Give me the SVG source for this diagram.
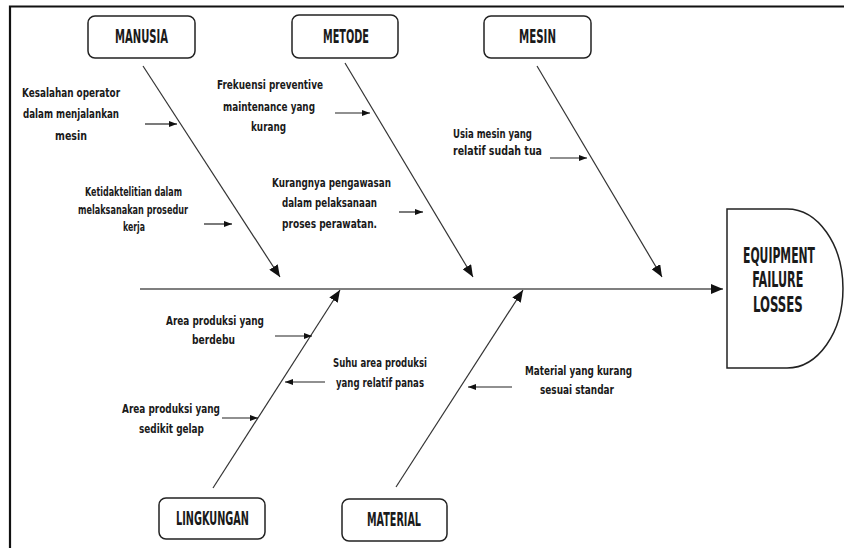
<svg xmlns="http://www.w3.org/2000/svg" width="844" height="548" viewBox="0 0 844 548">
<style>
.frame{fill:none;stroke:#111;stroke-width:2.2}
.box{fill:#fff;stroke:#222;stroke-width:1.5}
.bone{stroke:#333;stroke-width:1.2;fill:none}
.spine{stroke:#555;stroke-width:1.6;fill:none}
.sm{stroke:#222;stroke-width:1.2;fill:none}
text{font-family:"DejaVu Sans Condensed","DejaVu Sans","Liberation Sans",sans-serif;font-weight:bold;fill:#1a1a1a}
.lbl{font-size:19px}
.eff{font-size:22px;text-anchor:middle}
.t{font-size:13px}
</style>
<defs>
<marker id="big" viewBox="0 0 12 10" refX="12" refY="5" markerWidth="12" markerHeight="10" markerUnits="userSpaceOnUse" orient="auto">
<path d="M0,0 L12,5 L0,10 Z" fill="#111"/>
</marker>
<marker id="small" viewBox="0 0 8 6" refX="8" refY="3" markerWidth="8" markerHeight="6" markerUnits="userSpaceOnUse" orient="auto">
<path d="M0,0 L8,3 L0,6 Z" fill="#111"/>
</marker>
</defs>
<rect width="844" height="548" fill="#fff"/>
<path class="frame" d="M10,548 V6.5 H844"/>

<g id="connectors">
<line class="spine" x1="140" y1="289" x2="723" y2="289" marker-end="url(#big)"/>
<line class="bone" x1="143" y1="66" x2="280" y2="277" marker-end="url(#big)"/>
<line class="bone" x1="345" y1="63" x2="473" y2="277" marker-end="url(#big)"/>
<line class="bone" x1="537" y1="66" x2="662" y2="277" marker-end="url(#big)"/>
<line class="bone" x1="213" y1="488" x2="340" y2="290" marker-end="url(#big)"/>
<line class="bone" x1="396" y1="487" x2="523" y2="290" marker-end="url(#big)"/>
<line class="sm" x1="145" y1="124" x2="177" y2="124" marker-end="url(#small)"/>
<line class="sm" x1="204" y1="224" x2="232" y2="224" marker-end="url(#small)"/>
<line class="sm" x1="335" y1="113" x2="370" y2="113" marker-end="url(#small)"/>
<line class="sm" x1="399" y1="212" x2="423" y2="212" marker-end="url(#small)"/>
<line class="sm" x1="550" y1="158" x2="587" y2="158" marker-end="url(#small)"/>
<line class="sm" x1="275" y1="336" x2="312" y2="336" marker-end="url(#small)"/>
<line class="sm" x1="325" y1="382" x2="285" y2="382" marker-end="url(#small)"/>
<line class="sm" x1="222" y1="418" x2="258" y2="418" marker-end="url(#small)"/>
<line class="sm" x1="512" y1="387" x2="468" y2="387" marker-end="url(#small)"/>
</g>

<g id="manusia">
<rect class="box" x="88" y="16" width="107" height="42" rx="7"/>
<text class="lbl" x="115" y="43" textLength="53" lengthAdjust="spacingAndGlyphs">MANUSIA</text>
</g>
<g id="metode">
<rect class="box" x="292" y="15" width="106" height="43" rx="7"/>
<text class="lbl" x="323" y="43" textLength="46" lengthAdjust="spacingAndGlyphs">METODE</text>
</g>
<g id="mesin">
<rect class="box" x="484" y="16" width="107" height="42" rx="7"/>
<text class="lbl" x="519" y="43" textLength="37" lengthAdjust="spacingAndGlyphs">MESIN</text>
</g>
<g id="lingkungan">
<rect class="box" x="159" y="498" width="106" height="41" rx="7"/>
<text class="lbl" x="176" y="525" textLength="73" lengthAdjust="spacingAndGlyphs">LINGKUNGAN</text>
</g>
<g id="material">
<rect class="box" x="342" y="499" width="105" height="42" rx="7"/>
<text class="lbl" x="367" y="526" textLength="54" lengthAdjust="spacingAndGlyphs">MATERIAL</text>
</g>
<g id="effect">
<path class="box" d="M727,209 H787 A56,79.5 0 0 1 787,368 H727 Z"/>
<g transform="translate(779,0) scale(0.6,1)">
<text class="eff" x="0" y="263" textLength="120" lengthAdjust="spacingAndGlyphs">EQUIPMENT</text>
<text class="eff" x="-2" y="287" textLength="85" lengthAdjust="spacingAndGlyphs">FAILURE</text>
<text class="eff" x="-2" y="312" textLength="83" lengthAdjust="spacingAndGlyphs">LOSSES</text>
</g>
</g>

<g id="cause-kesalahan">
<text class="t" x="22" y="97" textLength="98" lengthAdjust="spacingAndGlyphs">Kesalahan operator</text>
<text class="t" x="23" y="118" textLength="96" lengthAdjust="spacingAndGlyphs">dalam menjalankan</text>
<text class="t" x="55" y="140" textLength="32" lengthAdjust="spacingAndGlyphs">mesin</text>
</g>
<g id="cause-ketidaktelitian">
<text class="t" x="85" y="196" textLength="97" lengthAdjust="spacingAndGlyphs">Ketidaktelitian dalam</text>
<text class="t" x="78" y="214" textLength="110" lengthAdjust="spacingAndGlyphs">melaksanakan prosedur</text>
<text class="t" x="123" y="231" textLength="22" lengthAdjust="spacingAndGlyphs">kerja</text>
</g>
<g id="cause-frekuensi">
<text class="t" x="217" y="89" textLength="106" lengthAdjust="spacingAndGlyphs">Frekuensi preventive</text>
<text class="t" x="223" y="111" textLength="92" lengthAdjust="spacingAndGlyphs">maintenance yang</text>
<text class="t" x="251" y="131" textLength="35" lengthAdjust="spacingAndGlyphs">kurang</text>
</g>
<g id="cause-kurangnya">
<text class="t" x="272" y="187" textLength="119" lengthAdjust="spacingAndGlyphs">Kurangnya pengawasan</text>
<text class="t" x="282" y="207" textLength="95" lengthAdjust="spacingAndGlyphs">dalam pelaksanaan</text>
<text class="t" x="282" y="228" textLength="95" lengthAdjust="spacingAndGlyphs">proses perawatan.</text>
</g>
<g id="cause-usia">
<text class="t" x="453" y="138" textLength="79" lengthAdjust="spacingAndGlyphs">Usia mesin yang</text>
<text class="t" x="453" y="155" textLength="89" lengthAdjust="spacingAndGlyphs">relatif sudah tua</text>
</g>
<g id="cause-berdebu">
<text class="t" x="166" y="325" textLength="98" lengthAdjust="spacingAndGlyphs">Area produksi yang</text>
<text class="t" x="192" y="344" textLength="43" lengthAdjust="spacingAndGlyphs">berdebu</text>
</g>
<g id="cause-gelap">
<text class="t" x="122" y="413" textLength="98" lengthAdjust="spacingAndGlyphs">Area produksi yang</text>
<text class="t" x="139" y="433" textLength="65" lengthAdjust="spacingAndGlyphs">sedikit gelap</text>
</g>
<g id="cause-suhu">
<text class="t" x="333" y="367" textLength="94" lengthAdjust="spacingAndGlyphs">Suhu area produksi</text>
<text class="t" x="336" y="387" textLength="88" lengthAdjust="spacingAndGlyphs">yang relatif panas</text>
</g>
<g id="cause-material">
<text class="t" x="525" y="375" textLength="107" lengthAdjust="spacingAndGlyphs">Material yang kurang</text>
<text class="t" x="540" y="394" textLength="74" lengthAdjust="spacingAndGlyphs">sesuai standar</text>
</g>
</svg>
